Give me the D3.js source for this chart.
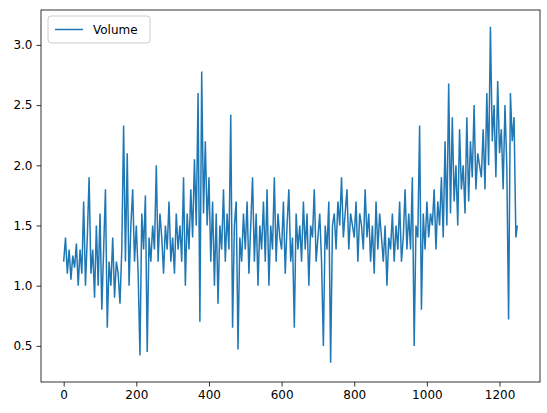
<!DOCTYPE html><html><head><meta charset="utf-8"><script src="https://cdn.jsdelivr.net/npm/d3@7"></script>
<style>body{margin:0;background:#fff}text{font-family:"DejaVu Sans",sans-serif}</style></head><body><svg id="c" width="547" height="413"></svg>
<script>
const seriesName = "Volume";
const step = 5;
const volume = [
1.2,1.4,1.1,1.3,1.05,1.25,1.15,1.35,1.0,1.3,
1.1,1.7,1.0,1.4,1.9,1.1,1.3,0.9,1.5,1.0,
1.6,0.8,1.3,1.8,0.65,1.2,1.0,1.4,0.9,1.2,
1.1,0.85,1.3,2.33,1.2,2.1,1.0,1.5,1.8,1.2,
1.5,1.1,0.42,1.6,1.3,1.75,0.45,1.4,1.2,1.5,
1.3,2.0,1.2,1.6,1.4,1.1,1.5,1.3,1.7,1.2,
1.4,1.1,1.6,1.3,1.5,1.2,1.9,1.0,1.6,1.3,
1.8,1.4,2.05,1.5,2.6,0.7,2.78,1.6,2.2,1.5,
1.9,1.2,1.7,1.0,1.6,0.85,1.5,1.3,1.8,1.2,
1.6,1.3,2.42,0.65,1.5,1.7,0.47,1.4,1.2,1.6,
1.3,1.7,1.1,1.5,1.9,1.2,1.6,1.0,1.5,1.3,
1.7,1.2,1.8,1.0,1.5,1.3,1.9,1.2,1.6,1.4,
1.3,1.7,1.1,1.5,1.8,1.2,1.4,0.65,1.6,1.3,
1.5,1.2,1.7,1.3,1.6,1.0,1.5,1.4,1.8,1.2,
1.4,1.6,1.2,0.5,1.5,1.3,1.7,0.36,1.5,1.6,
1.3,1.7,1.5,1.9,1.4,1.6,1.8,1.3,1.6,1.5,
1.4,1.7,1.2,1.6,1.5,1.3,1.8,1.4,1.6,1.2,
1.5,1.1,1.7,1.3,1.6,1.4,1.2,1.5,1.0,1.4,
1.3,1.6,1.2,1.5,1.3,1.7,1.2,1.4,1.8,1.3,
1.6,1.3,1.9,0.5,1.5,1.4,2.33,0.8,1.6,1.3,
1.7,1.4,1.6,1.5,1.8,1.3,1.7,1.5,1.9,1.4,
2.2,1.5,2.68,1.6,2.4,1.7,2.0,1.5,2.3,1.8,
2.0,1.6,2.4,1.7,2.2,1.9,2.5,1.8,2.1,2.0,
1.9,2.3,1.8,2.6,2.0,3.15,2.2,2.5,1.9,2.7,
2.1,2.3,1.8,2.5,2.0,0.72,2.6,2.2,2.4,1.4,1.5];
const xTicks = [0,200,400,600,800,1000,1200];
const yTicks = [0.5,1.0,1.5,2.0,2.5,3.0];
const data = volume.map((v,i)=>({x: i<250 ? i*step : 1249, y:v}));
const L=41,R=540,T=10,B=382;
const x=d3.scaleLinear().domain([-62.45,1311.45]).range([L,R]);
const y=d3.scaleLinear().domain([0.2,3.29]).range([B,T]);
const svg=d3.select("#c");
svg.append("path").datum(data).attr("fill","none").attr("stroke","#1f77b4").attr("stroke-width",1.5)
 .attr("d",d3.line().x(d=>x(d.x)).y(d=>y(d.y)));
svg.append("rect").attr("x",L).attr("y",T).attr("width",R-L).attr("height",B-T).attr("fill","none").attr("stroke","#000").attr("stroke-width",0.8);
const gx=svg.append("g").attr("transform",`translate(0,${B})`).call(d3.axisBottom(x).tickValues(xTicks).tickSize(4.5).tickPadding(4).tickFormat(d3.format("d")));
const gy=svg.append("g").attr("transform",`translate(${L},0)`).call(d3.axisLeft(y).tickValues(yTicks).tickSize(4.5).tickPadding(4).tickFormat(d3.format(".1f")));
[gx,gy].forEach(g=>{g.select(".domain").remove();g.selectAll("text").attr("font-size",12).attr("font-family","DejaVu Sans").attr("fill","#000");g.selectAll("line").attr("stroke","#000").attr("stroke-width",0.8);});
const lg=svg.append("g");
lg.append("rect").attr("x",48).attr("y",16).attr("width",102).attr("height",27).attr("rx",3).attr("fill","#fff").attr("fill-opacity",0.8).attr("stroke","#ccc");
lg.append("line").attr("x1",55).attr("x2",83).attr("y1",29.5).attr("y2",29.5).attr("stroke","#1f77b4").attr("stroke-width",1.5);
lg.append("text").attr("x",93).attr("y",34).attr("font-size",12).text(seriesName);
</script></body></html>
